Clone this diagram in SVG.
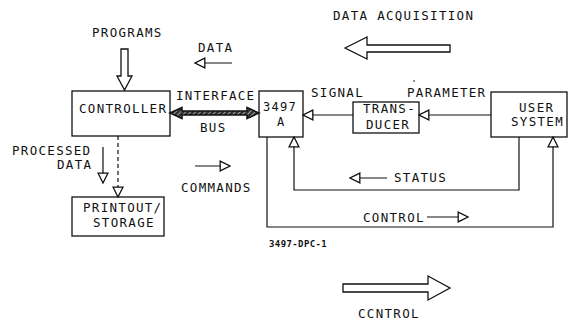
<svg xmlns="http://www.w3.org/2000/svg" width="569" height="321" viewBox="0 0 569 321">
<style>
  text { font-family: "DejaVu Sans Mono", "Liberation Mono", monospace; font-size: 12.5px; letter-spacing: 1.3px; fill: #111; }
  .small { font-size: 9px; font-weight: bold; letter-spacing: 0.4px; }
  .box { fill: #fff; stroke: #111; stroke-width: 1.3; }
  .ln { fill: none; stroke: #111; stroke-width: 1.2; }
  .arr { marker-end: url(#ah); }
  .hollow { fill: #fff; stroke: #111; stroke-width: 1.3; stroke-linejoin: miter; }
</style>
<defs>
  <marker id="ah" markerUnits="userSpaceOnUse" markerWidth="12" markerHeight="12" viewBox="-1 -1 11 11" refX="9" refY="4.5" orient="auto">
    <path d="M0,0 L9,4.5 L0,9 z" fill="#fff" stroke="#111" stroke-width="1.2"/>
  </marker>
  <pattern id="hatch" patternUnits="userSpaceOnUse" width="3.5" height="3.5" patternTransform="rotate(45)">
    <rect width="3.5" height="3.5" fill="#333"/>
    <line x1="0" y1="0" x2="0" y2="3.5" stroke="#fff" stroke-width="1"/>
  </pattern>
</defs>

<g id="labels">
  <text x="92" y="37">PROGRAMS</text>
  <text x="198" y="52">DATA</text>
  <text x="333" y="20">DATA ACQUISITION</text>
  <text x="176" y="100">INTERFACE</text>
  <text x="200" y="132">BUS</text>
  <text x="311" y="97">SIGNAL</text>
  <text x="407" y="97">PARAMETER</text>
  <circle cx="414" cy="81" r="0.8" fill="#111"/>
  <text x="394" y="182">STATUS</text>
  <text x="363" y="222">CONTROL</text>
  <text x="181" y="192">COMMANDS</text>
  <text x="12" y="155">PROCESSED</text>
  <text x="57" y="169">DATA</text>
  <text class="small" x="269" y="247">3497-DPC-1</text>
  <text x="358" y="318">CCNTROL</text>
</g>

<g id="controller">
  <rect class="box" x="72" y="91" width="98" height="45"/>
  <text x="79" y="113">CONTROLLER</text>
</g>
<g id="hp3497a">
  <rect class="box" x="259" y="91" width="44" height="46"/>
  <text x="263" y="111" style="font-size:12px">3497</text>
  <text x="277" y="126" style="font-size:12px">A</text>
</g>
<g id="transducer">
  <rect class="box" x="353" y="102" width="66" height="31"/>
  <text x="363" y="113">TRANS-</text>
  <text x="366" y="129">DUCER</text>
</g>
<g id="user-system">
  <rect class="box" x="491" y="92" width="76" height="45"/>
  <text x="519" y="112">USER</text>
  <text x="511" y="126">SYSTEM</text>
</g>
<g id="printout">
  <rect class="box" x="72" y="197" width="92" height="39"/>
  <text x="83" y="212">PRINTOUT/</text>
  <text x="93" y="227">STORAGE</text>
</g>

<g id="connectors">
  <polygon class="hollow" points="121,49 128,49 128,76 132,76 124.5,90 117,76 121,76"/>
  <line class="ln arr" x1="232" y1="63" x2="195" y2="63"/>
  <polygon points="170,113 182,107.5 182,111 247,111 247,107.5 259,113 247,118.5 247,115 182,115 182,118.5" fill="url(#hatch)" stroke="#111" stroke-width="1.5"/>
  <line class="ln arr" x1="353" y1="115" x2="303" y2="115"/>
  <line class="ln arr" x1="491" y1="115" x2="419" y2="115"/>
  <polygon class="hollow" points="345,48 367,37 367,45 450,45 450,52 367,52 367,59"/>
  <polyline class="ln arr" points="519,137 519,190 294,190 294,137"/>
  <line class="ln arr" x1="387" y1="178" x2="350" y2="178"/>
  <polyline class="ln arr" points="267,137 267,227 553,227 553,137"/>
  <line class="ln arr" x1="427" y1="217" x2="468" y2="217"/>
  <line class="ln arr" x1="195" y1="166" x2="230" y2="166"/>
  <line class="ln arr" x1="103" y1="147" x2="103" y2="183"/>
  <line class="ln arr" x1="118" y1="136" x2="118" y2="197" stroke-dasharray="4,3"/>
  <polygon class="hollow" points="343,284 428,284 428,276 450,288 428,300 428,292 343,292"/>
</g>
</svg>
